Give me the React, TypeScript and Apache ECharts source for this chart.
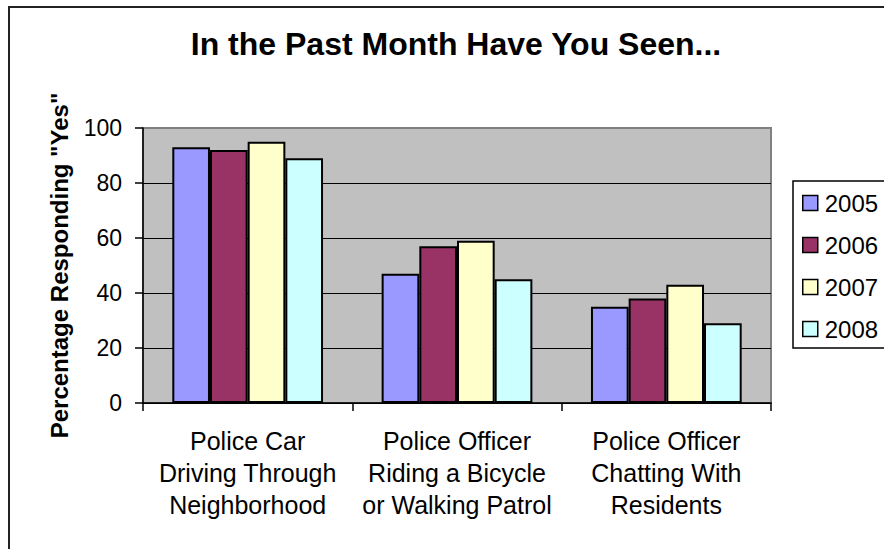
import React, { useEffect, useRef } from "react";
import * as echarts from "echarts";

const categories = [
  "Police Car\nDriving Through\nNeighborhood",
  "Police Officer\nRiding a Bicycle\nor Walking Patrol",
  "Police Officer\nChatting With\nResidents",
];
const seriesNames = ["2005", "2006", "2007", "2008"];
const values2005 = [93, 47, 35];
const values2006 = [92, 57, 38];
const values2007 = [95, 59, 43];
const values2008 = [89, 45, 29];
const colors = ["#9999FF", "#993366", "#FFFFCC", "#CCFFFF"];

const FONT = "'Liberation Sans', Arial, sans-serif";

export default function App() {
  const ref = useRef<HTMLDivElement>(null);
  useEffect(() => {
    if (!ref.current) return;
    const chart = echarts.init(ref.current, null, { renderer: "svg" });
    const data = [values2005, values2006, values2007, values2008];
    chart.setOption({
      animation: false,
      backgroundColor: "#ffffff",
      textStyle: { fontFamily: FONT },
      title: {
        text: "In the Past Month Have You Seen...",
        left: 451,
        top: 23,
        textAlign: "center",
        textStyle: { fontFamily: FONT, fontSize: 32, fontWeight: "bold", color: "#000" },
      },
      graphic: [
        {
          type: "rect",
          shape: { x: 9, y: 7, width: 920, height: 600 },
          style: { fill: "none", stroke: "#222", lineWidth: 2 },
          silent: true,
        },
        {
          type: "rect",
          shape: { x: 793, y: 181, width: 200, height: 167 },
          style: { fill: "#fff", stroke: "#000", lineWidth: 1.5 },
          silent: true,
          z: -1,
        },
      ],
      legend: {
        orient: "vertical",
        left: 802,
        top: 189,
        itemWidth: 15,
        itemHeight: 15,
        itemGap: 14,
        padding: 0,
        icon: "rect",
        itemStyle: { borderColor: "#000", borderWidth: 1.5 },
        textStyle: { fontFamily: FONT, fontSize: 24, color: "#000", lineHeight: 28, padding: [0, 0, 0, 2] },
        data: seriesNames,
      },
      grid: {
        left: 143,
        right: 113,
        top: 128,
        bottom: 146,
        show: true,
        backgroundColor: "#C0C0C0",
        borderColor: "#808080",
        borderWidth: 2,
      },
      xAxis: {
        type: "category",
        data: categories,
        axisLine: { lineStyle: { color: "#000", width: 1.5 } },
        axisTick: { show: true, length: 8, lineStyle: { color: "#000", width: 1.5 } },
        axisLabel: {
          fontFamily: FONT,
          fontSize: 25,
          color: "#000",
          lineHeight: 32,
          margin: 22,
          interval: 0,
        },
      },
      yAxis: {
        type: "value",
        min: 0,
        max: 100,
        interval: 20,
        name: 'Percentage Responding "Yes"',
        nameLocation: "middle",
        nameGap: 72,
        nameRotate: 90,
        nameTextStyle: { fontFamily: FONT, fontSize: 24, fontWeight: "bold", color: "#000" },
        axisLine: { show: true, lineStyle: { color: "#000", width: 1.5 } },
        axisTick: { show: true, length: 8, lineStyle: { color: "#000", width: 1.5 } },
        axisLabel: { fontFamily: FONT, fontSize: 23, color: "#000", margin: 21 },
        splitLine: { show: true, showMaxLine: false, lineStyle: { color: "#000", width: 1 } },
      },
      series: seriesNames.map((name, i) => ({
        name,
        type: "bar",
        data: data[i],
        barGap: "0%",
        barCategoryGap: "28%",
        itemStyle: { color: colors[i], borderColor: "#000", borderWidth: 2 },
      })),
    });
    return () => chart.dispose();
  }, []);
  return (
    <div
      ref={ref}
      style={{ position: "fixed", left: 0, top: 0, width: 884, height: 549 }}
    />
  );
}
